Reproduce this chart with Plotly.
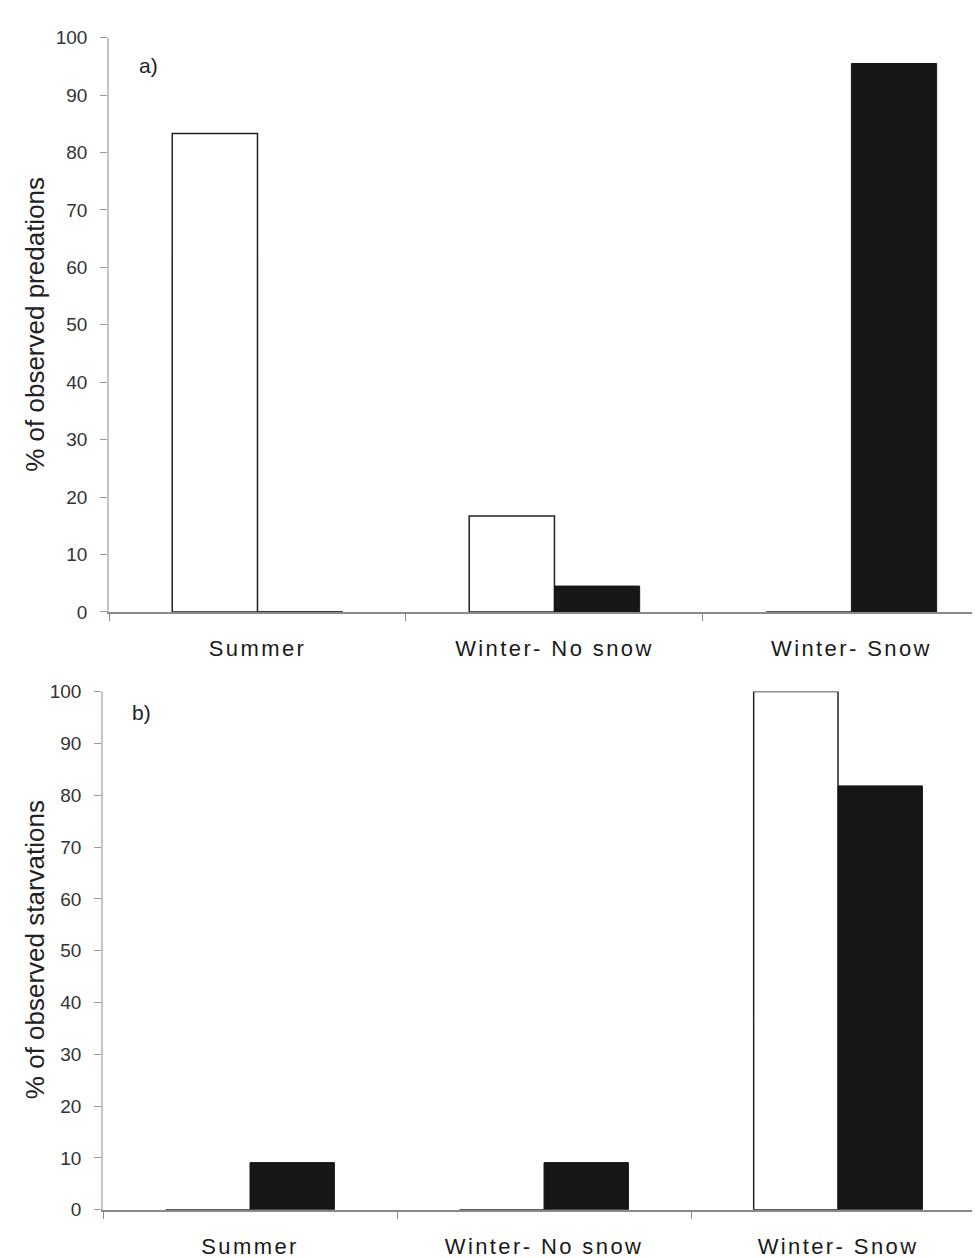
import plotly.graph_objects as go

categories = ["Summer", "Winter- No snow", "Winter- Snow"]

# Panel a: % of observed predations
pred_open = [83.3, 16.7, 0]
pred_filled = [0, 4.5, 95.5]

# Panel b: % of observed starvations
starv_open = [0, 0, 100]
starv_filled = [9.1, 9.1, 81.8]

y_ticks = [0, 10, 20, 30, 40, 50, 60, 70, 80, 90, 100]

W, H = 980, 1258
FONT = "Liberation Sans, Arial, sans-serif"

fig = go.Figure()

def add_pair(open_vals, filled_vals, xa, ya):
    fig.add_trace(go.Bar(
        x=categories, y=open_vals, xaxis=xa, yaxis=ya, name="open",
        marker=dict(color="white", line=dict(color="#222222", width=1.5)),
        showlegend=False))
    fig.add_trace(go.Bar(
        x=categories, y=filled_vals, xaxis=xa, yaxis=ya, name="filled",
        marker=dict(color="#171717", line=dict(color="#171717", width=1)),
        showlegend=False))

add_pair(pred_open, pred_filled, "x", "y")
add_pair(starv_open, starv_filled, "x2", "y2")

def xaxis_cfg(dom, rng, anchor):
    return dict(
        domain=dom, range=rng, anchor=anchor, type="category",
        showline=True, linecolor="#8a8a8a", linewidth=1.5,
        ticks="outside", tickson="boundaries", ticklen=7, tickwidth=1,
        tickcolor="#8a8a8a", showgrid=False, zeroline=False,
        tickfont=dict(family=FONT, size=22, color="#1a1a1a"),
        ticklabelstandoff=16,
    )

def yaxis_cfg(dom, anchor):
    return dict(
        domain=dom, range=[0, 100], anchor=anchor,
        tickvals=y_ticks, ticktext=[str(v) for v in y_ticks],
        showline=True, linecolor="#c4c4c4", linewidth=1.5,
        ticks="outside", ticklen=7, tickwidth=1, tickcolor="#9a9a9a",
        showgrid=False, zeroline=False,
        tickfont=dict(family=FONT, size=19, color="#333333"),
        ticklabelstandoff=9,
    )

fig.update_layout(
    width=W, height=H,
    margin=dict(l=0, r=0, t=0, b=0),
    paper_bgcolor="white", plot_bgcolor="white",
    barmode="group", bargap=0.426, bargroupgap=0,
    xaxis=xaxis_cfg([101 / W, 1], [-0.5, 2.46], "y"),
    yaxis=yaxis_cfg([1 - 604 / H, 1 - 20 / H], "x"),
    xaxis2=xaxis_cfg([95 / W, 1], [-0.5, 2.51], "y2"),
    yaxis2=yaxis_cfg([1 - 1212 / H, 1 - 685 / H], "x2"),
)

annots = [
    dict(text="% of observed predations", x=27 / W, y=1 - 312 / H, textangle=-90, size=26),
    dict(text="% of observed starvations", x=27 / W, y=1 - 948 / H, textangle=-90, size=26),
    dict(text="a)", x=140 / W, y=1 - 48 / H, textangle=0, size=21),
    dict(text="b)", x=133 / W, y=1 - 706 / H, textangle=0, size=21),
]
for a in annots:
    fig.add_annotation(
        text=a["text"], x=a["x"], y=a["y"], xref="paper", yref="paper",
        xanchor="center", yanchor="middle", textangle=a["textangle"],
        showarrow=False, font=dict(family=FONT, size=a["size"], color="#222222"))

post = ("document.querySelectorAll('.xtick text, .x2tick text').forEach(function(t){"
        "t.style.letterSpacing='2.4px';});")
fig.write_html("out.html", post_script=post)
